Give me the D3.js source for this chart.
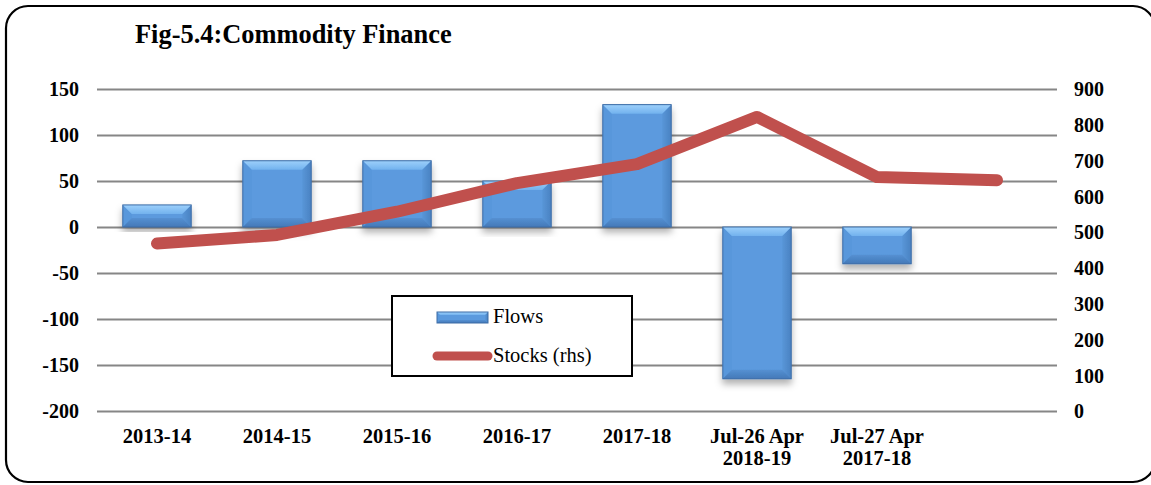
<!DOCTYPE html>
<html>
<head>
<meta charset="utf-8">
<script src="https://cdn.jsdelivr.net/npm/d3@7"></script>
<style>
  body { margin: 0; background: #fff; }
  text { font-family: "Liberation Serif", "Times New Roman", serif; fill: #000; }
  .tick text { font-size: 20px; font-weight: bold; }
  .grid line { stroke: #868686; stroke-width: 2; }
</style>
</head>
<body>
<div id="chart"></div>
<script>
const categories = ['2013-14', '2014-15', '2015-16', '2016-17', '2017-18', 'Jul-26 Apr\n2018-19', 'Jul-27 Apr\n2017-18', ''];
const flows = [24, 72, 72, 50, 133, -165, -40, null];
const stocks = [468, 492, 557, 637, 690, 822, 654, 645];
const leftTicks = [-200, -150, -100, -50, 0, 50, 100, 150];
const rightTicks = [0, 100, 200, 300, 400, 500, 600, 700, 800, 900];

const W = 1151, H = 485;
const plot = { left: 97, right: 1057, top: 89, bottom: 411 };

const svg = d3.select('#chart')
  .append('svg')
    .attr('width', W)
    .attr('height', H);

const defs = svg.append('defs');
defs.append('filter')
    .attr('id', 'shadow')
    .attr('x', '-20%').attr('y', '-20%').attr('width', '140%').attr('height', '140%')
  .append('feDropShadow')
    .attr('dx', 0).attr('dy', 5)
    .attr('stdDeviation', 3.5)
    .attr('flood-color', '#000')
    .attr('flood-opacity', 0.3);

const topGrad = defs.append('linearGradient')
  .attr('id', 'bevTop').attr('x1', 0).attr('y1', 0).attr('x2', 0).attr('y2', 1);
topGrad.append('stop').attr('offset', 0).attr('stop-color', '#9dd0fb');
topGrad.append('stop').attr('offset', 1).attr('stop-color', '#72b2ee');

const rightGrad = defs.append('linearGradient')
  .attr('id', 'bevRight').attr('x1', 0).attr('y1', 0).attr('x2', 1).attr('y2', 0);
rightGrad.append('stop').attr('offset', 0).attr('stop-color', '#5896d8');
rightGrad.append('stop').attr('offset', 1).attr('stop-color', '#4a82c2');

const botGrad = defs.append('linearGradient')
  .attr('id', 'bevBot').attr('x1', 0).attr('y1', 0).attr('x2', 0).attr('y2', 1);
botGrad.append('stop').attr('offset', 0).attr('stop-color', '#5590d2');
botGrad.append('stop').attr('offset', 1).attr('stop-color', '#4479b8');

// Outer rounded frame (runs off the right edge like the source)
svg.append('rect')
  .attr('x', 6).attr('y', 6)
  .attr('width', 1149).attr('height', 476)
  .attr('rx', 22)
  .attr('fill', 'none')
  .attr('stroke', '#000')
  .attr('stroke-width', 2.2);

svg.append('text')
  .attr('x', 135).attr('y', 43)
  .attr('font-size', 26.4)
  .attr('font-weight', 'bold')
  .text('Fig-5.4:Commodity Finance');

const x = d3.scaleBand()
  .domain(d3.range(categories.length))
  .range([plot.left, plot.right])
  .paddingInner(0.43)
  .paddingOuter(0.215);

const yL = d3.scaleLinear()
  .domain([-200, 150])
  .range([plot.bottom, plot.top]);

const yR = d3.scaleLinear()
  .domain([0, 900])
  .range([plot.bottom, plot.top]);

// Left axis with gridlines
svg.append('g')
  .attr('class', 'grid')
  .attr('transform', 'translate(' + plot.left + ',0)')
  .call(d3.axisLeft(yL)
    .tickValues(leftTicks)
    .tickFormat(d => String(d))
    .tickSize(-(plot.right - plot.left))
    .tickPadding(18))
  .call(g => g.select('.domain').remove());

// Right axis, labels only
svg.append('g')
  .attr('transform', 'translate(' + (plot.right + 17) + ',0)')
  .call(d3.axisRight(yR).tickValues(rightTicks).tickFormat(d => String(d)).tickSize(0).tickPadding(0))
  .call(g => g.select('.domain').remove());

svg.selectAll('.tick text').attr('dy', '0.34em');

// Category labels
const xl = svg.append('g');
categories.forEach((c, i) => {
  const t = xl.append('text')
    .attr('text-anchor', 'middle')
    .attr('font-size', 20.5)
    .attr('font-weight', 'bold');
  c.split('\n').forEach((s, j) => {
    t.append('tspan')
      .attr('x', x(i) + x.bandwidth() / 2)
      .attr('y', 443 + j * 22)
      .text(s);
  });
});

// Bevelled bars
function bevelBar(g, x0, x1, yTop, yBot, b) {
  const bb = Math.min(b, (yBot - yTop) / 2);
  g.append('rect')
    .attr('x', x0).attr('y', yTop)
    .attr('width', x1 - x0).attr('height', yBot - yTop)
    .attr('fill', '#5b9ade');
  const poly = (pts, fill) => g.append('polygon')
    .attr('points', pts.map(p => p.join(',')).join(' '))
    .attr('fill', fill);
  poly([[x0, yTop], [x0 + bb, yTop + bb], [x0 + bb, yBot - bb], [x0, yBot]], '#5897db');
  poly([[x1, yTop], [x1 - bb, yTop + bb], [x1 - bb, yBot - bb], [x1, yBot]], 'url(#bevRight)');
  poly([[x0, yBot], [x1, yBot], [x1 - bb, yBot - bb], [x0 + bb, yBot - bb]], 'url(#bevBot)');
  poly([[x0, yTop], [x1, yTop], [x1 - bb, yTop + bb], [x0 + bb, yTop + bb]], 'url(#bevTop)');
  g.append('rect')
    .attr('x', x0).attr('y', yTop)
    .attr('width', x1 - x0).attr('height', yBot - yTop)
    .attr('fill', 'none')
    .attr('stroke', '#3d6ca6')
    .attr('stroke-width', 1);
}

const bars = svg.append('g').attr('class', 'bars');
flows.forEach((v, i) => {
  if (v == null) return;
  const g = bars.append('g').attr('filter', 'url(#shadow)');
  const yTop = Math.min(yL(v), yL(0));
  const yBot = Math.max(yL(v), yL(0));
  bevelBar(g, x(i), x(i) + x.bandwidth(), yTop, yBot, 9);
});

// Stocks line
const line = d3.line()
  .x((d, i) => x(i) + x.bandwidth() / 2)
  .y(d => yR(d));

svg.append('path')
  .datum(stocks)
  .attr('d', line)
  .attr('fill', 'none')
  .attr('stroke', '#c0504d')
  .attr('stroke-width', 12)
  .attr('stroke-linejoin', 'round')
  .attr('stroke-linecap', 'round');

// Legend
const lg = svg.append('g').attr('transform', 'translate(392,296)');
lg.append('rect')
  .attr('width', 240).attr('height', 80)
  .attr('fill', '#fff')
  .attr('stroke', '#000')
  .attr('stroke-width', 2);
bevelBar(lg.append('g'), 45, 96, 16, 27, 3);
lg.append('text').attr('x', 101).attr('y', 27).attr('font-size', 20.5).text('Flows');
lg.append('line')
  .attr('x1', 45).attr('x2', 96)
  .attr('y1', 60).attr('y2', 60)
  .attr('stroke', '#c0504d')
  .attr('stroke-width', 9)
  .attr('stroke-linecap', 'round');
lg.append('text').attr('x', 101).attr('y', 66).attr('font-size', 20.5).text('Stocks (rhs)');
</script>
</body>
</html>
